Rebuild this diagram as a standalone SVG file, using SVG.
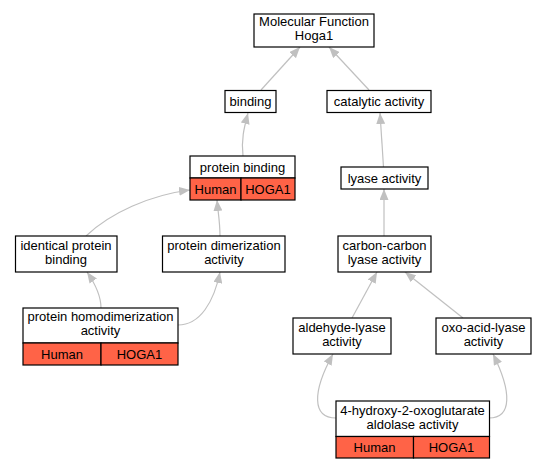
<svg xmlns="http://www.w3.org/2000/svg" width="547" height="469" viewBox="0 0 547 469">
<defs>
<marker id="ah" markerUnits="userSpaceOnUse" markerWidth="11" markerHeight="9" refX="11" refY="4.5" orient="auto">
<path d="M0,0 L11,4.5 L0,9 z" fill="#c0c0c0"/>
</marker>
</defs>
<style>
.n{fill:#fff;stroke:#000;stroke-width:1.2}
.r{fill:#ff6347;stroke:#000;stroke-width:1.2}
.t{font-family:"Liberation Sans",Arial,sans-serif;font-size:13px;fill:#000;text-anchor:middle}
.e{fill:none;stroke:#c0c0c0;stroke-width:1.2;marker-end:url(#ah)}
</style>
<rect width="547" height="469" fill="#fff"/>
<g id="edges">
<path class="e" d="M261,90 L300,47"/>
<path class="e" d="M369,90 L329,47"/>
<path class="e" d="M243,156 C241,140 244,128 248,113"/>
<path class="e" d="M383.5,167 L380,113"/>
<path class="e" d="M86,236 C110,213 150,195 190,190"/>
<path class="e" d="M220,236 C220,222 218,212 217,200"/>
<path class="e" d="M101,308 C101,296 96,285 87,272"/>
<path class="e" d="M178,325 C200,325 214,302 220,272"/>
<path class="e" d="M384,236 L384,189"/>
<path class="e" d="M352,318 L377,272"/>
<path class="e" d="M463,318 L405,272"/>
<path class="e" d="M336,418 C312,418 312,392 333,354"/>
<path class="e" d="M489,418 C512,418 512,392 493,354"/>
</g>
<g id="mf">
<rect class="n" x="254" y="14" width="120" height="33"/>
<text class="t" x="314" y="26">Molecular Function</text>
<text class="t" x="314" y="40">Hoga1</text>
</g>
<g id="binding">
<rect class="n" x="225" y="90.5" width="51" height="22"/>
<text class="t" x="250.5" y="106">binding</text>
</g>
<g id="catalytic">
<rect class="n" x="327" y="90.5" width="104" height="22"/>
<text class="t" x="379" y="106">catalytic activity</text>
</g>
<g id="protein_binding">
<rect class="n" x="190" y="156" width="105" height="22"/>
<rect class="r" x="190" y="178" width="51" height="22"/>
<rect class="r" x="241" y="178" width="54" height="22"/>
<text class="t" x="242.5" y="171.5">protein binding</text>
<text class="t" x="215.5" y="193.5">Human</text>
<text class="t" x="268" y="193.5">HOGA1</text>
</g>
<g id="lyase">
<rect class="n" x="341" y="167" width="87" height="22"/>
<text class="t" x="384.5" y="182.5">lyase activity</text>
</g>
<g id="identical">
<rect class="n" x="15.5" y="236" width="101.5" height="36"/>
<text class="t" x="66" y="249.5">identical protein</text>
<text class="t" x="66" y="263.5">binding</text>
</g>
<g id="dimerization">
<rect class="n" x="162.5" y="236" width="122.5" height="36"/>
<text class="t" x="224" y="249.5">protein dimerization</text>
<text class="t" x="224" y="263.5">activity</text>
</g>
<g id="carbon">
<rect class="n" x="338" y="236" width="93" height="36"/>
<text class="t" x="384.5" y="249.5">carbon-carbon</text>
<text class="t" x="384.5" y="263.5">lyase activity</text>
</g>
<g id="homodimerization">
<rect class="n" x="23" y="308" width="155" height="35"/>
<rect class="r" x="23" y="343" width="78" height="22"/>
<rect class="r" x="101" y="343" width="77" height="22"/>
<text class="t" x="100.5" y="321">protein homodimerization</text>
<text class="t" x="100.5" y="335">activity</text>
<text class="t" x="62" y="358.5">Human</text>
<text class="t" x="139.5" y="358.5">HOGA1</text>
</g>
<g id="aldehyde">
<rect class="n" x="293" y="318" width="98" height="36"/>
<text class="t" x="342" y="331.5">aldehyde-lyase</text>
<text class="t" x="342" y="345.5">activity</text>
</g>
<g id="oxo">
<rect class="n" x="436" y="318" width="95" height="36"/>
<text class="t" x="483.5" y="331.5">oxo-acid-lyase</text>
<text class="t" x="483.5" y="345.5">activity</text>
</g>
<g id="hydroxy">
<rect class="n" x="336" y="401" width="153.5" height="35.5"/>
<rect class="r" x="336" y="436.5" width="77.5" height="21.5"/>
<rect class="r" x="413.5" y="436.5" width="76" height="21.5"/>
<text class="t" x="412.5" y="414.5">4-hydroxy-2-oxoglutarate</text>
<text class="t" x="412.5" y="428.5">aldolase activity</text>
<text class="t" x="374.5" y="451.5">Human</text>
<text class="t" x="451.5" y="451.5">HOGA1</text>
</g>
</svg>
